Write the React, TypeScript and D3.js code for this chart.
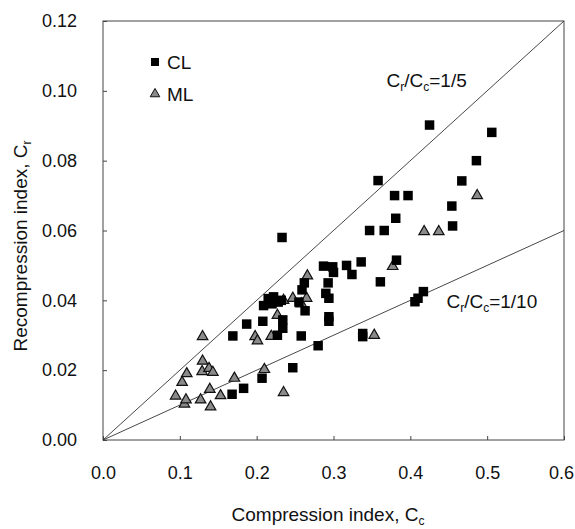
import React, { useEffect, useRef } from "react";
import * as d3 from "d3";

// Cc, Cr pairs
const clData: [number, number][] = [
  [0.168, 0.0131], [0.169, 0.0298], [0.183, 0.0148], [0.187, 0.0332],
  [0.207, 0.0177], [0.208, 0.034], [0.209, 0.0385], [0.215, 0.0405],
  [0.222, 0.041], [0.22, 0.039], [0.228, 0.0395], [0.232, 0.04],
  [0.227, 0.03], [0.233, 0.058], [0.234, 0.0344], [0.234, 0.032],
  [0.247, 0.0207], [0.255, 0.0395], [0.258, 0.0298], [0.259, 0.043],
  [0.262, 0.045], [0.263, 0.037], [0.28, 0.027], [0.287, 0.0498],
  [0.29, 0.042], [0.294, 0.0406], [0.293, 0.045], [0.294, 0.0353],
  [0.294, 0.034], [0.299, 0.0496], [0.3, 0.048], [0.317, 0.05],
  [0.324, 0.0474], [0.336, 0.051], [0.338, 0.0305], [0.338, 0.0296],
  [0.347, 0.06], [0.358, 0.0743], [0.361, 0.0453], [0.366, 0.06],
  [0.3795, 0.07], [0.381, 0.0635], [0.382, 0.0515], [0.397, 0.07],
  [0.406, 0.0396], [0.41, 0.0406], [0.417, 0.0425], [0.425, 0.0902],
  [0.454, 0.067], [0.455, 0.0613], [0.467, 0.0742], [0.486, 0.08],
  [0.506, 0.0881],
];

const mlData: [number, number][] = [
  [0.0945, 0.0126], [0.103, 0.0165], [0.106, 0.0103], [0.108, 0.0115],
  [0.109, 0.019], [0.127, 0.0115], [0.129, 0.0196], [0.1296, 0.0226],
  [0.1296, 0.0296], [0.138, 0.0205], [0.139, 0.0145], [0.14, 0.0095],
  [0.143, 0.0194], [0.153, 0.0127], [0.171, 0.0177], [0.198, 0.0296],
  [0.201, 0.0284], [0.21, 0.0202], [0.219, 0.0297], [0.227, 0.0357],
  [0.235, 0.0136], [0.235, 0.04], [0.247, 0.0406], [0.258, 0.039],
  [0.265, 0.0406], [0.266, 0.047], [0.353, 0.03], [0.377, 0.0497],
  [0.418, 0.0597], [0.437, 0.0597], [0.487, 0.07],
];

const xTicks = [0, 0.1, 0.2, 0.3, 0.4, 0.5, 0.6];
const yTicks = [0, 0.02, 0.04, 0.06, 0.08, 0.1, 0.12];

// reference lines Cr/Cc = ratio, with label anchor (Cc, Cr of text baseline start)
const ratioLines = [
  { ratio: 1 / 5, den: "1/5", at: [0.369, 0.101] },
  { ratio: 1 / 10, den: "1/10", at: [0.447, 0.0378] },
];

const FONT = "'Liberation Sans', Arial, sans-serif";

const App = () => {
  const svgRef = useRef<SVGSVGElement>(null);

  useEffect(() => {
    const svg = d3.select(svgRef.current);
    svg.selectAll("*").remove();

    const width = 575;
    const height = 529;
    const plot = { left: 103, right: 564, top: 21, bottom: 440 };

    const x = d3.scaleLinear().domain([0, 0.6]).range([plot.left, plot.right]);
    const y = d3.scaleLinear().domain([0, 0.12]).range([plot.bottom, plot.top]);

    svg.attr("width", width).attr("height", height);
    svg.append("rect").attr("width", width).attr("height", height).attr("fill", "#fff");

    // frame
    svg
      .append("rect")
      .attr("x", plot.left)
      .attr("y", plot.top)
      .attr("width", plot.right - plot.left)
      .attr("height", plot.bottom - plot.top)
      .attr("fill", "none")
      .attr("stroke", "#444")
      .attr("stroke-width", 1);

    // axes with inward ticks
    const xAxis = svg
      .append("g")
      .attr("transform", `translate(0,${plot.bottom})`)
      .call(
        d3
          .axisBottom(x)
          .tickValues(xTicks)
          .tickSize(-4)
          .tickPadding(26)
          .tickFormat(d3.format(".1f"))
      );
    const yAxis = svg
      .append("g")
      .attr("transform", `translate(${plot.left},0)`)
      .call(
        d3
          .axisLeft(y)
          .tickValues(yTicks)
          .tickSize(-4)
          .tickPadding(26)
          .tickFormat(d3.format(".2f"))
      );
    [xAxis, yAxis].forEach((a) => {
      a.select(".domain").remove();
      a.selectAll("line").attr("stroke", "#444");
      a.selectAll("text")
        .attr("fill", "#111")
        .style("font-family", FONT)
        .style("font-size", "18px");
    });
    // last x label sits against the page edge
    xAxis
      .selectAll("text")
      .filter((d) => d === 0.6)
      .attr("dx", -3);

    // ratio lines
    ratioLines.forEach((r) => {
      svg
        .append("line")
        .attr("x1", x(0))
        .attr("y1", y(0))
        .attr("x2", x(0.6))
        .attr("y2", y(0.6 * r.ratio))
        .attr("stroke", "#333")
        .attr("stroke-width", 0.9);

      const t = svg
        .append("text")
        .attr("x", x(r.at[0]))
        .attr("y", y(r.at[1]))
        .attr("fill", "#111")
        .style("font-family", FONT)
        .style("font-size", "19px");
      t.append("tspan").text("C");
      t.append("tspan").attr("dy", 4).style("font-size", "12px").text("r");
      t.append("tspan").attr("dy", -4).text("/C");
      t.append("tspan").attr("dy", 4).style("font-size", "12px").text("c");
      t.append("tspan").attr("dy", -4).text("=" + r.den);
    });

    const squareSym = d3.symbol(d3.symbolSquare, 90);
    const triSym = d3.symbol(d3.symbolTriangle, 48);

    // ML triangles
    svg
      .append("g")
      .selectAll("path")
      .data(mlData)
      .enter()
      .append("path")
      .attr("d", triSym)
      .attr("transform", (d) => `translate(${x(d[0])},${y(d[1])})`)
      .attr("fill", "#8a8a8a")
      .attr("stroke", "#111")
      .attr("stroke-width", 1.2);

    // CL squares
    svg
      .append("g")
      .selectAll("path")
      .data(clData)
      .enter()
      .append("path")
      .attr("d", squareSym)
      .attr("transform", (d) => `translate(${x(d[0])},${y(d[1])})`)
      .attr("fill", "#000");

    // legend
    const legend = svg.append("g").attr("transform", "translate(155,62)");
    legend.append("path").attr("d", d3.symbol(d3.symbolSquare, 64)).attr("fill", "#000");
    legend
      .append("text")
      .attr("x", 12)
      .attr("y", 7)
      .style("font-family", FONT)
      .style("font-size", "19px")
      .attr("fill", "#111")
      .text("CL");
    legend
      .append("path")
      .attr("d", d3.symbol(d3.symbolTriangle, 40))
      .attr("transform", "translate(0,32)")
      .attr("fill", "#8a8a8a")
      .attr("stroke", "#111");
    legend
      .append("text")
      .attr("x", 12)
      .attr("y", 39)
      .style("font-family", FONT)
      .style("font-size", "19px")
      .attr("fill", "#111")
      .text("ML");

    // axis titles
    const xt = svg
      .append("text")
      .attr("x", 328)
      .attr("y", 521)
      .attr("text-anchor", "middle")
      .attr("fill", "#111")
      .style("font-family", FONT)
      .style("font-size", "19px");
    xt.append("tspan").text("Compression index, C");
    xt.append("tspan").attr("dy", 4).style("font-size", "12px").text("c");

    const yt = svg
      .append("text")
      .attr("transform", `translate(27,246) rotate(-90)`)
      .attr("text-anchor", "middle")
      .attr("fill", "#111")
      .style("font-family", FONT)
      .style("font-size", "19px");
    yt.append("tspan").text("Recompression index, C");
    yt.append("tspan").attr("dy", 4).style("font-size", "12px").text("r");
  }, []);

  return (
    <svg
      ref={svgRef}
      style={{ position: "absolute", left: 0, top: 0, display: "block" }}
    ></svg>
  );
};

export default App;
